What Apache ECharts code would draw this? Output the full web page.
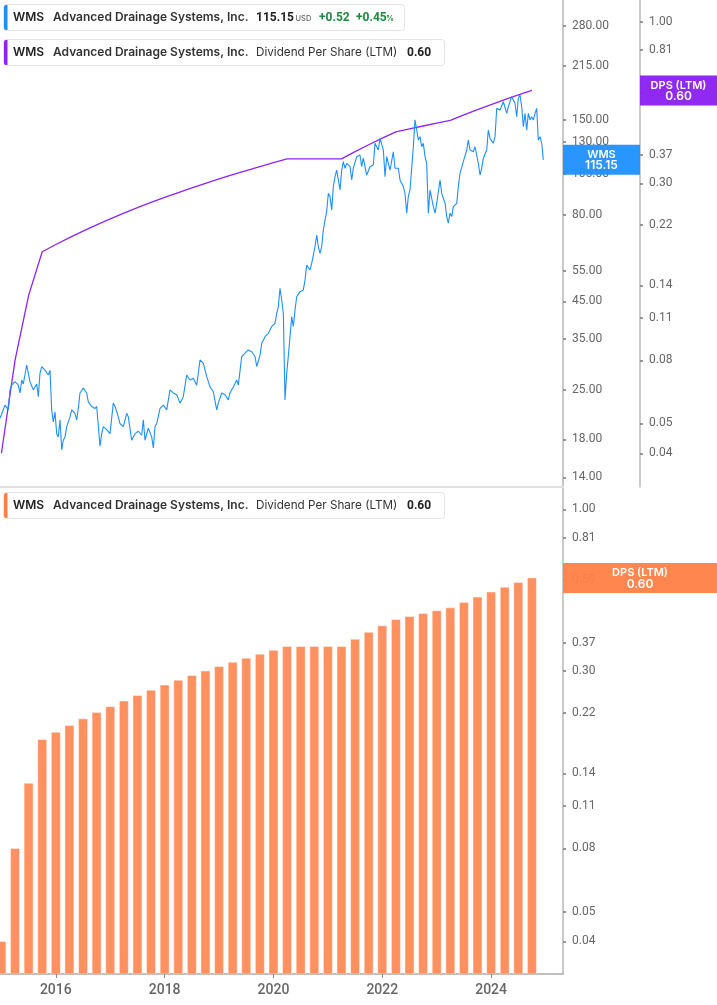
<!DOCTYPE html>
<html><head><meta charset="utf-8">
<script src="https://cdn.jsdelivr.net/npm/echarts@6/dist/echarts.min.js"></script>
<style>html,body{margin:0;padding:0;background:#fff}#c{width:717px;height:1005px}</style>
</head><body><div id="c"></div>
<script>
// ---- data (dates as decimal years) ----
const priceDates = [
2014.974,2015.066,2015.127,2015.158,2015.189,2015.250,2015.310,2015.342,2015.373,2015.402,
2015.465,2015.494,2015.525,2015.586,2015.617,2015.649,2015.678,2015.709,2015.740,2015.801,
2015.862,2015.893,2015.924,2015.954,2015.985,2016.016,2016.045,2016.077,2016.108,2016.137,
2016.169,2016.200,2016.261,2016.292,2016.352,2016.384,2016.413,2016.444,2016.505,2016.567,
2016.597,2016.659,2016.720,2016.751,2016.812,2016.843,2016.873,2016.935,2016.996,2017.056,
2017.088,2017.148,2017.179,2017.240,2017.303,2017.332,2017.394,2017.455,2017.516,2017.578,
2017.608,2017.639,2017.700,2017.762,2017.792,2017.823,2017.854,2017.915,2017.975,2018.038,
2018.098,2018.159,2018.222,2018.282,2018.343,2018.405,2018.466,2018.527,2018.589,2018.650,
2018.711,2018.773,2018.834,2018.894,2018.957,2018.986,2019.049,2019.109,2019.170,2019.201,
2019.262,2019.324,2019.354,2019.416,2019.477,2019.538,2019.600,2019.661,2019.692,2019.753,
2019.784,2019.845,2019.905,2019.968,2020.028,2020.060,2020.089,2020.120,2020.151,2020.181,
2020.212,2020.243,2020.272,2020.304,2020.335,2020.365,2020.396,2020.427,2020.488,2020.548,
2020.580,2020.611,2020.671,2020.703,2020.763,2020.795,2020.824,2020.855,2020.886,2020.916,
2020.947,2020.978,2021.008,2021.039,2021.070,2021.100,2021.131,2021.162,2021.192,2021.223,
2021.254,2021.283,2021.315,2021.346,2021.407,2021.438,2021.467,2021.530,2021.590,2021.621,
2021.651,2021.713,2021.774,2021.835,2021.866,2021.927,2021.958,2021.989,2022.019,2022.050,
2022.081,2022.142,2022.202,2022.234,2022.294,2022.326,2022.386,2022.417,2022.449,2022.478,
2022.509,2022.570,2022.601,2022.633,2022.662,2022.693,2022.724,2022.754,2022.785,2022.816,
2022.846,2022.877,2022.908,2022.938,2022.969,2023.000,2023.061,2023.092,2023.121,2023.153,
2023.184,2023.213,2023.245,2023.276,2023.305,2023.368,2023.397,2023.428,2023.489,2023.552,
2023.581,2023.612,2023.673,2023.704,2023.765,2023.796,2023.827,2023.857,2023.919,2023.948,
2023.980,2024.040,2024.072,2024.103,2024.164,2024.224,2024.255,2024.287,2024.316,2024.378,
2024.408,2024.439,2024.470,2024.500,2024.531,2024.562,2024.592,2024.623,2024.654,2024.684,
2024.715,2024.746,2024.776,2024.807,2024.838,2024.867,2024.899,2024.930,2024.959
];
const priceValues = [
20.7,22.6,21.9,25.0,25.8,26.4,25.8,24.5,26.7,26.0,
29.5,27.9,26.4,25.0,24.7,26.0,23.9,27.9,29.2,28.5,
27.6,28.5,21.9,20.2,21.6,18.7,18.3,20.5,16.8,17.9,
18.3,19.6,20.9,21.9,21.4,20.5,22.1,24.5,25.3,24.5,
23.1,22.4,22.1,22.4,17.2,18.7,19.6,19.2,18.7,22.9,
22.4,20.9,20.0,19.6,21.4,20.9,17.9,18.7,19.0,18.5,
20.5,17.9,19.4,18.3,17.0,19.6,20.0,22.1,22.6,21.9,
25.0,24.5,24.2,22.9,23.9,27.6,26.7,27.0,25.8,30.5,
29.8,27.3,25.5,24.7,21.9,22.9,24.5,24.2,23.4,24.5,
25.5,26.7,25.8,31.2,31.9,32.6,32.2,31.2,29.2,31.5,
34.1,35.6,36.4,38.1,38.9,41.6,43.4,49.1,45.4,41.6,
23.4,27.9,31.2,35.6,40.7,38.1,42.5,46.4,48.0,48.5,
51.9,57.3,55.4,58.0,64.7,69.9,64.7,61.9,64.7,72.3,
77.2,81.6,92.2,90.2,82.5,96.4,103.0,107.6,100.7,94.3,
107.6,113.8,108.9,112.5,110.0,100.7,108.9,117.6,118.9,110.0,
116.4,104.1,110.0,111.3,128.5,122.9,132.8,131.4,122.9,103.0,
117.6,107.6,121.5,108.9,108.9,100.7,96.4,92.2,80.8,90.2,
94.3,125.6,150.1,140.4,131.4,134.3,125.6,128.5,117.6,112.5,
80.8,94.3,95.3,84.4,80.8,86.3,100.7,92.2,91.2,86.3,
79.0,75.6,80.8,79.0,84.4,86.3,96.4,105.3,113.8,122.9,
131.4,122.9,121.5,125.6,112.5,104.1,108.9,116.4,122.9,140.4,
132.8,128.5,134.3,162.1,160.3,169.3,171.2,156.8,163.8,175.1,
177.1,167.6,153.3,173.3,177.1,163.8,143.5,156.8,140.4,156.8,
150.1,153.3,150.1,156.8,162.1,131.4,134.3,128.5,115.15
];
const dpsDates = [
2015.00,2015.25,2015.50,2015.75,2016.00,2016.25,2016.50,2016.75,
2017.00,2017.25,2017.50,2017.75,2018.00,2018.25,2018.50,2018.75,
2019.00,2019.25,2019.50,2019.75,2020.00,2020.25,2020.50,2020.75,
2021.00,2021.25,2021.50,2021.75,2022.00,2022.25,2022.50,2022.75,
2023.00,2023.25,2023.50,2023.75,2024.00,2024.25,2024.50,2024.75
];
const dpsValues = [
0.04,0.08,0.13,0.18,0.19,0.20,0.21,0.22,
0.23,0.24,0.25,0.26,0.27,0.28,0.29,0.30,
0.31,0.32,0.33,0.34,0.35,0.36,0.36,0.36,
0.36,0.36,0.38,0.40,0.42,0.44,0.45,0.46,
0.47,0.48,0.50,0.52,0.54,0.56,0.58,0.60
];
const priceTicks = [14,18,25,35,45,55,80,105,130,150,215,280];
const dpsTicks = [0.04,0.05,0.08,0.11,0.14,0.22,0.30,0.37,0.59,0.81,1.00];
const yearTicks = [2016,2018,2020,2022,2024];
const ticker = 'WMS';
const company = 'Advanced Drainage Systems, Inc.';
const lastPrice = 115.15, priceChange = '+0.52', pctChange = '+0.45', lastDps = 0.60;
const metricName = 'Dividend Per Share (LTM)';

// ---- styling ----
const BLUE = '#1e8fff', PURPLE = '#8d24f7', ORANGE = '#ff9060', ORANGE_BOX = '#ff7f45';
const FONT = 'Roboto, "Noto Sans", sans-serif';
const LFONT = 'Inter, Roboto, sans-serif';
const X_MIN = 2014.974, X_MAX = 2025.321;

const chart = echarts.init(document.getElementById('c'), null, {renderer: 'canvas'});

function yAxisCfg(grid, min, max, ticks, extra) {
  return Object.assign({
    gridIndex: grid, type: 'log', logBase: 10, position: 'right', min: min, max: max,
    axisLine: {show: true, onZero: false, lineStyle: {color: '#b8b8b8', width: 1.5}},
    axisTick: {show: true, length: 3, customValues: ticks, lineStyle: {color: '#777', width: 1.5}},
    axisLabel: {show: true, customValues: ticks, margin: 9, fontSize: 12, color: '#666', fontFamily: FONT,
      formatter: v => Number(v).toFixed(2)},
    splitLine: {show: false}
  }, extra || {});
}

const option = {
  animation: false,
  backgroundColor: '#fff',
  grid: [
    {left: 0, right: 154, top: 0, height: 487, containLabel: false},
    {left: 0, right: 154, top: 488, bottom: 31, containLabel: false}
  ],
  xAxis: [
    {gridIndex: 0, type: 'value', min: X_MIN, max: X_MAX,
     axisLine: {show: true, onZero: false, lineStyle: {color: '#e0e0e0', width: 2}},
     axisTick: {show: false}, axisLabel: {show: false}, splitLine: {show: false}},
    {gridIndex: 1, type: 'value', min: X_MIN, max: X_MAX,
     axisLine: {show: true, onZero: false, lineStyle: {color: '#aaa', width: 1.5}},
     axisTick: {show: true, length: 4, customValues: yearTicks, lineStyle: {color: '#888', width: 1}},
     axisLabel: {show: true, customValues: yearTicks, margin: 9, fontSize: 14, color: '#666', fontFamily: FONT,
       fontWeight: 500, formatter: v => String(Math.round(v))},
     splitLine: {show: false}}
  ],
  yAxis: [
    yAxisCfg(0, 13.123, 332.7, priceTicks),
    yAxisCfg(0, 0.0311, 1.178, dpsTicks, {offset: 77}),
    yAxisCfg(1, 0.0314, 1.172, dpsTicks)
  ],
  series: [
    {type: 'line', xAxisIndex: 0, yAxisIndex: 0, showSymbol: false, symbol: 'none',
     data: priceDates.map((d, i) => [d, priceValues[i]]),
     lineStyle: {color: BLUE, width: 1.1}, itemStyle: {color: BLUE}, z: 3, clip: true},
    {type: 'line', xAxisIndex: 0, yAxisIndex: 1, showSymbol: false, symbol: 'none',
     data: dpsDates.map((d, i) => [d, dpsValues[i]]),
     lineStyle: {color: PURPLE, width: 1.3}, itemStyle: {color: PURPLE}, z: 2, clip: true},
    {type: 'custom', xAxisIndex: 1, yAxisIndex: 2, clip: true,
     data: dpsDates.map((d, i) => [d, dpsValues[i]]),
     encode: {x: 0, y: 1},
     renderItem: function (params, api) {
       const t = api.value(0), v = api.value(1);
       const top = api.coord([t, v]);
       const base = api.coord([t, 0.0314]);
       const w = 9;
       return {type: 'rect',
         shape: {x: top[0] - w / 2, y: top[1], width: w, height: base[1] - top[1]},
         style: {fill: ORANGE, stroke: 'rgba(255,255,255,0.45)', lineWidth: 1}};
     }}
  ]
};
chart.setOption(option);

// ---- overlays: legends and value boxes ----
function txt(x, y, text, font, fill, align) {
  return {type: 'text', z: 101, style: {x: x, y: y, text: text, font: font, fill: fill,
    align: align || 'left', verticalAlign: 'middle'}};
}
function box(x, y, w, h, stripe) {
  return [
    {type: 'rect', z: 100, shape: {x: x, y: y, width: w, height: h, r: 3},
     style: {fill: '#fff', stroke: '#e4e4e4', lineWidth: 1}},
    {type: 'rect', z: 101, shape: {x: x + 0.5, y: y + 0.5, width: 3.5, height: h - 1, r: [2, 0, 0, 2]},
     style: {fill: stripe}}
  ];
}
const B = '600 12px ' + LFONT, R = '400 12px ' + LFONT;
const N = 'bold 12px ' + FONT;
let g = [];
g = g.concat(box(3.5, 4.5, 401, 26, BLUE));
g.push(txt(13, 17.5, ticker, B, '#222'));
g.push(txt(53, 17.5, company, B, '#333'));
g.push(txt(256, 17.5, lastPrice.toFixed(2), N, '#222'));
g.push(txt(295.5, 18.5, 'USD', '500 7.5px ' + LFONT, '#666'));
g.push(txt(319, 17.5, priceChange, N, '#1d8a3c'));
g.push(txt(356, 17.5, pctChange, N, '#1d8a3c'));
g.push(txt(386, 18.5, '%', '600 8px ' + LFONT, '#1d8a3c'));

function dpsLegend(y, color) {
  let arr = box(3.5, y, 441, 26, color);
  const cy = y + 13;
  arr.push(txt(13, cy, ticker, B, '#222'));
  arr.push(txt(53, cy, company, B, '#333'));
  arr.push(txt(256, cy, metricName, '400 11.7px ' + LFONT, '#333'));
  arr.push(txt(407, cy, lastDps.toFixed(2), N, '#222'));
  return arr;
}
g = g.concat(dpsLegend(39.5, PURPLE));
g = g.concat(dpsLegend(492.5, ORANGE_BOX));

function valueBox(x, w, cy, color, l1, l2) {
  return [
    {type: 'rect', z: 110, shape: {x: x, y: cy - 15, width: w, height: 30},
     style: {fill: color, opacity: 0.95}},
    txt(x + w / 2, cy - 5, l1, '600 11px ' + LFONT, '#fff', 'center'),
    txt(x + w / 2, cy + 6, l2, '600 12px ' + LFONT, '#fff', 'center')
  ].map(e => { if (e.type === 'text') e.z = 111; return e; });
}
const yPrice = chart.convertToPixel({yAxisIndex: 0}, lastPrice);
const yDpsTop = chart.convertToPixel({yAxisIndex: 1}, lastDps);
const yDpsBot = chart.convertToPixel({yAxisIndex: 2}, lastDps);
const xAxisRight = chart.convertToPixel({xAxisIndex: 0}, X_MAX);
g = g.concat(valueBox(xAxisRight, 77, yPrice, BLUE, ticker, lastPrice.toFixed(2)));
g = g.concat(valueBox(xAxisRight + 77, 717 - xAxisRight - 77, yDpsTop, '#8a1ff0', 'DPS (LTM)', lastDps.toFixed(2)));
g = g.concat(valueBox(xAxisRight, 717 - xAxisRight, yDpsBot, ORANGE_BOX, 'DPS (LTM)', lastDps.toFixed(2)));

chart.setOption({graphic: {elements: g}});
</script></body></html>
